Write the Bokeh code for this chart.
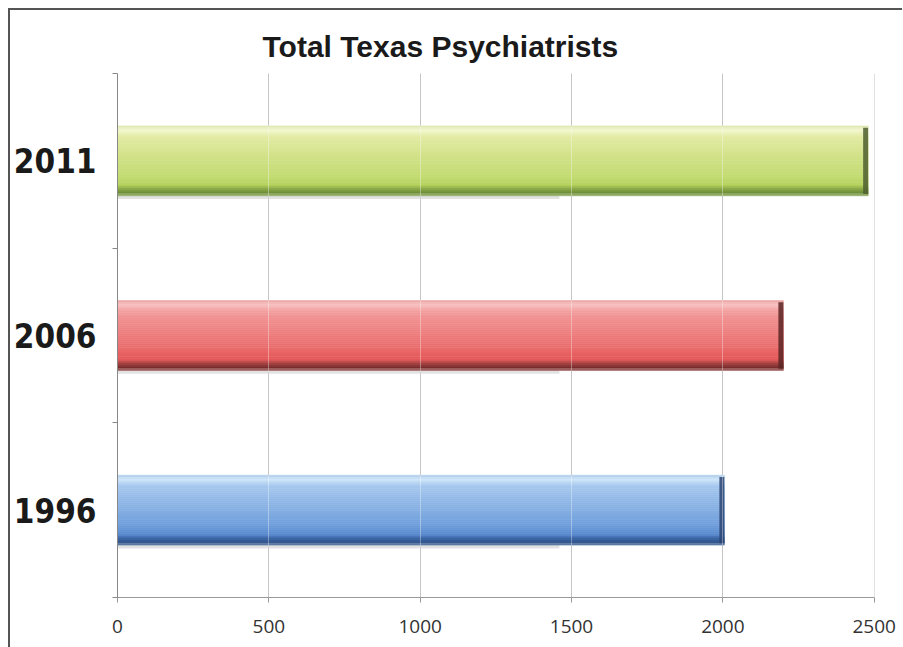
import numpy as np
from bokeh.plotting import figure
from bokeh.models import Range1d, FixedTicker, Grid, ColumnDataSource
from bokeh.embed import file_html
from bokeh.resources import INLINE

# Data
years = ["1996", "2006", "2011"]
psychiatrists = [2005, 2200, 2480]
shadow_end = 1460          # extent of the soft drop shadow under each bar
x_ticks = [0, 500, 1000, 1500, 2000, 2500]

# Vertical colour profile of each bar, top (0) to bottom (1)
gradients = {
    "1996": [(0.00, "#a8c8e8"), (0.06, "#d2e8fb"), (0.16, "#a6c8ef"), (0.40, "#8eb6e6"),
             (0.70, "#72a0dc"), (0.85, "#5b8bd0"), (0.90, "#3c68aa"), (0.96, "#2a4f88"),
             (1.00, "#7890b0")],
    "2006": [(0.00, "#eaa0a0"), (0.06, "#f8c4c4"), (0.16, "#f39c9c"), (0.40, "#ef8585"),
             (0.70, "#ea6b6b"), (0.85, "#e45757"), (0.90, "#a84040"), (0.96, "#7a2c2c"),
             (1.00, "#b07878")],
    "2011": [(0.00, "#d8e4a8"), (0.06, "#f5f8d2"), (0.16, "#e2eba2"), (0.40, "#d3e38b"),
             (0.70, "#c5dc74"), (0.85, "#b5d35f"), (0.90, "#8fae4a"), (0.96, "#6f8f3a"),
             (1.00, "#a0b878")],
}
end_caps = {"1996": "#2c4472", "2006": "#5a2424", "2011": "#4f5f30"}

BAR_H = 0.4
N_STRIPS = 36


def hex_to_rgb(h):
    h = h.lstrip("#")
    return np.array([int(h[i:i + 2], 16) for i in (0, 2, 4)], dtype=float)


def blend(stops, t):
    for (t0, c0), (t1, c1) in zip(stops[:-1], stops[1:]):
        if t <= t1:
            f = 0 if t1 == t0 else (t - t0) / (t1 - t0)
            rgb = hex_to_rgb(c0) * (1 - f) + hex_to_rgb(c1) * f
            return "#%02x%02x%02x" % tuple(int(round(v)) for v in rgb)
    return stops[-1][1]


p = figure(
    frame_width=757, frame_height=524,
    x_range=Range1d(0, 2501), y_range=Range1d(0, 3),
    output_backend="svg", toolbar_location=None,
    min_border_left=106, min_border_top=63, min_border_right=28, min_border_bottom=50,
    title="Total Texas Psychiatrists",
    styles={"margin-left": "8px", "margin-top": "8px",
            "border-left": "2px solid #555555", "border-top": "2px solid #555555"},
)
p.outline_line_color = None
p.background_fill_color = "white"
p.border_fill_color = "white"

p.title.text_font = "Liberation Sans"
p.title.text_font_size = "30px"
p.title.text_font_style = "bold"
p.title.text_color = "#1a1a1a"
p.title.align = "left"
p.title.offset = 145
p.title.standoff = 22

# Bars as stacked thin strips to give the shaded cylinder look
strip = dict(y=[], right=[], color=[])
shadow = dict(y=[], right=[])
caps = dict(y=[], left=[], right=[], color=[])
px = 2501 / 757
h = BAR_H / N_STRIPS
for i, (yr, val) in enumerate(zip(years, psychiatrists)):
    centre = i + 0.5
    top = centre + BAR_H / 2
    for k in range(N_STRIPS):
        t = (k + 0.5) / N_STRIPS
        strip["y"].append(top - (k + 0.5) * h)
        strip["right"].append(val)
        strip["color"].append(blend(gradients[yr], t))
    shadow["y"].append(centre - BAR_H / 2 - 0.008)
    shadow["right"].append(shadow_end)
    caps["y"].append(centre)
    caps["left"].append(val - 5 * px)
    caps["right"].append(val)
    caps["color"].append(end_caps[yr])

p.hbar(y="y", left=0, right="right", height=0.022, source=ColumnDataSource(shadow),
       fill_color="#cfcfcf", line_color=None, fill_alpha=0.6)
p.hbar(y="y", left=0, right="right", height=h, source=ColumnDataSource(strip),
       fill_color="color", line_color="color", line_width=0.6)
p.hbar(y="y", left="left", right="right", height=BAR_H - 0.02, source=ColumnDataSource(caps),
       fill_color="color", line_color=None, fill_alpha=0.85)

# Axes
xa = p.xaxis[0]
xa.ticker = FixedTicker(ticks=x_ticks)
xa.axis_line_color = "#999999"
xa.major_tick_line_color = "#999999"
xa.major_tick_out = 5
xa.major_tick_in = 0
xa.minor_tick_line_color = None
xa.major_label_text_font = "Open Sans"
xa.major_label_text_font_size = "19px"
xa.major_label_text_color = "#333333"
xa.major_label_standoff = 17

ya = p.yaxis[0]
ya.ticker = FixedTicker(ticks=[0.5, 1.5, 2.5], minor_ticks=[0, 1, 2, 3])
ya.major_label_overrides = {0.5: years[0], 1.5: years[1], 2.5: years[2]}
ya.axis_line_color = "#888888"
ya.major_tick_line_color = None
ya.minor_tick_line_color = "#888888"
ya.minor_tick_out = 5
ya.minor_tick_in = 0
ya.major_label_text_font = "DejaVu Sans Condensed, Roboto, sans-serif"
ya.major_label_text_font_style = "bold"
ya.major_label_text_font_size = "33px"
ya.major_label_text_color = "#1a1a1a"
ya.major_label_standoff = 15

p.xgrid.grid_line_color = "#a6a6a6"
p.ygrid.grid_line_color = None
# faint grid lines that show through the bars
p.add_layout(Grid(dimension=0, ticker=xa.ticker, level="overlay",
                  grid_line_color="white", grid_line_alpha=0.35))

open("out.html", "w").write(file_html(p, INLINE))
